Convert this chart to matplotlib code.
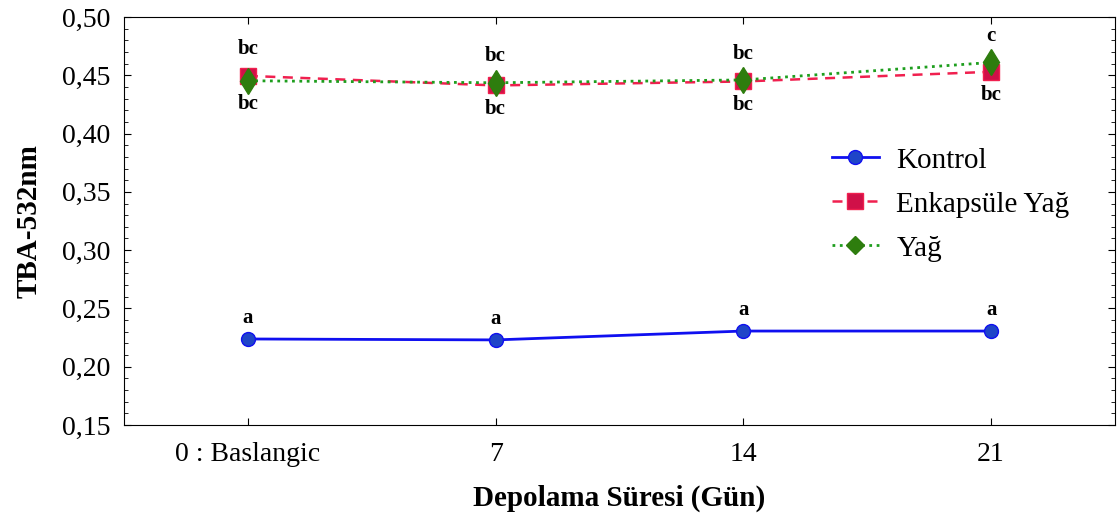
import matplotlib.pyplot as plt
import numpy as np
from matplotlib.ticker import MultipleLocator, FuncFormatter

plt.rcParams['font.family'] = ['Liberation Serif', 'DejaVu Serif']

days = ['0 : Baslangic', '7', '14', '21']
kontrol = [0.2238, 0.2230, 0.2306, 0.2306]
enkapsule = [0.4495, 0.4413, 0.4447, 0.4530]
yag = [0.4453, 0.4436, 0.4460, 0.4610]
kontrol_letters = ['a', 'a', 'a', 'a']
top_letters = ['bc', 'bc', 'bc', 'c']
bottom_letters = ['bc', 'bc', 'bc', 'bc']

fig = plt.figure(figsize=(11.2, 5.18), dpi=100)
ax = fig.add_axes([124 / 1120, 1 - 425 / 518, 991 / 1120, 408 / 518])

x = np.arange(len(days))
ax.plot(x, kontrol, '-', color='#1010f0', lw=2, marker='o', ms=10,
        mfc='#1f45c8', mec='#1010f0', label='Kontrol')
ax.plot(x, enkapsule, '--', color='#f0204f', lw=1.8, dashes=(4, 3), marker='s', ms=12,
        mfc='#d01048', mec='#f0204f', label='Enkapsüle Yağ')
ax.plot(x, yag, ':', color='#1e9e1e', lw=2, marker='d', ms=13,
        mfc='#2e7d0e', mec='#2e7d0e', label='Yağ')

for i in range(len(days)):
    ax.annotate(kontrol_letters[i], (x[i], kontrol[i]), xytext=(0, 15), textcoords='offset points',
                ha='center', va='center', fontsize=15, fontweight='bold')
    hi = max(enkapsule[i], yag[i])
    lo = min(enkapsule[i], yag[i])
    ax.annotate(top_letters[i], (x[i], hi), xytext=(0, 19), textcoords='offset points',
                ha='center', va='center', fontsize=15, fontweight='bold')
    ax.annotate(bottom_letters[i], (x[i], lo), xytext=(0, -17), textcoords='offset points',
                ha='center', va='center', fontsize=15, fontweight='bold')

ax.set_xlim(-0.5, 3.5)
ax.set_ylim(0.15, 0.50)
ax.set_xticks(x)
ax.set_xticklabels(days)
ax.yaxis.set_major_locator(MultipleLocator(0.05))
ax.yaxis.set_minor_locator(MultipleLocator(0.01))
ax.yaxis.set_major_formatter(FuncFormatter(lambda v, p: f'{v:.2f}'.replace('.', ',')))
ax.tick_params(axis='both', which='both', direction='in', top=True, right=True, labelsize=20)
ax.tick_params(axis='both', which='major', length=5)
ax.tick_params(axis='both', which='minor', length=3)
ax.tick_params(axis='x', pad=12)
ax.tick_params(axis='y', pad=10)

ax.set_xlabel('Depolama Süresi (Gün)', fontsize=21, fontweight='bold', labelpad=13)
ax.set_ylabel('TBA-532nm', fontsize=21, fontweight='bold', labelpad=14)

leg = ax.legend(loc='upper left', bbox_to_anchor=(0.688, 0.745), frameon=False, fontsize=21,
                handlelength=1.6, labelspacing=0.6, handletextpad=0.6)
leg.legend_handles[2].set_marker('D')
leg.legend_handles[2].set_markersize(9)

fig.savefig('out.png', dpi=100)
